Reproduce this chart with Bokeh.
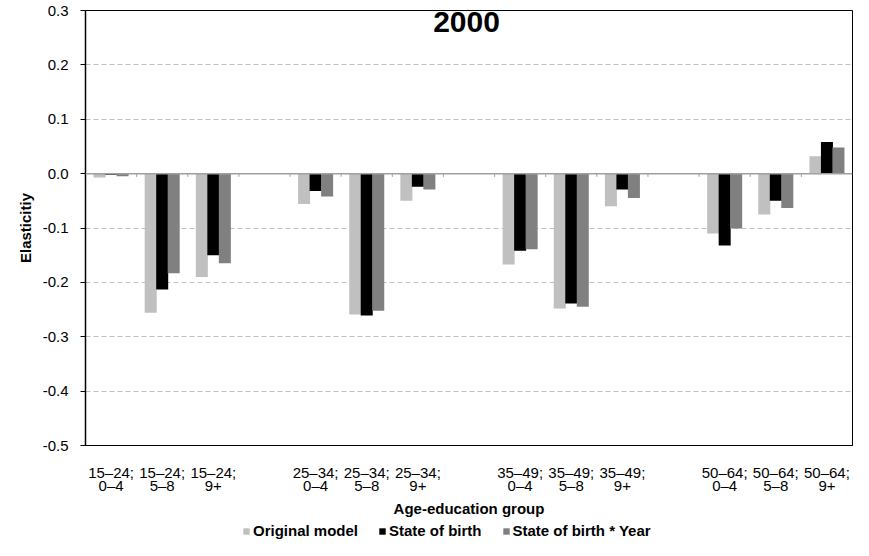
from bokeh.plotting import figure
from bokeh.layouts import column
from bokeh.models import (Range1d, FixedTicker, Legend, LegendItem, Label,
                          NumeralTickFormatter, Span)
from bokeh.embed import file_html
from bokeh.resources import INLINE

age_groups = ["15–24", "25–34", "35–49", "50–64"]
education = ["0–4", "5–8", "9+"]
series = ["Original model", "State of birth", "State of birth * Year"]

original = [-0.007, -0.256, -0.190, -0.056, -0.259, -0.050,
            -0.167, -0.248, -0.060, -0.110, -0.075, 0.032]
state_birth = [-0.002, -0.213, -0.150, -0.032, -0.261, -0.024,
               -0.142, -0.239, -0.029, -0.132, -0.050, 0.058]
state_year = [-0.005, -0.183, -0.165, -0.042, -0.252, -0.029,
              -0.139, -0.245, -0.045, -0.101, -0.063, 0.048]

y_ticks = [-0.5, -0.4, -0.3, -0.2, -0.1, 0.0, 0.1, 0.2, 0.3]
colors = ["#c0c0c0", "#000000", "#808080"]
FONT = "Liberation Sans"

# one empty slot between age groups, like the excel chart
per_group = len(education) + 1
n_slots = len(age_groups) * per_group - 1
centers = [g * per_group + e + 0.5
           for g in range(len(age_groups)) for e in range(len(education))]
labels = {c: f"{a};\n{e}" for c, (a, e) in
          zip(centers, [(a, e) for a in age_groups for e in education])}
all_series = [original, state_birth, state_year]

p = figure(width=853, height=520, x_range=Range1d(0, n_slots),
           y_range=Range1d(-0.5, 0.3), output_backend="svg",
           toolbar_location=None, min_border_left=85, min_border_right=1,
           min_border_top=10, min_border_bottom=75)
p.background_fill_color = "white"
p.border_fill_color = "white"
p.outline_line_color = "black"
p.outline_line_width = 1

p.ygrid.ticker = FixedTicker(ticks=y_ticks)
p.ygrid.grid_line_color = "#c0c0c0"
p.ygrid.grid_line_dash = "5 3"
p.xgrid.grid_line_color = None

p.add_layout(Span(location=0, dimension="width", line_color="#a0a0a0",
                  line_width=1.5))
bounds = list(range(1, n_slots))
p.segment(x0=bounds, y0=[0] * len(bounds), x1=bounds,
          y1=[-0.006] * len(bounds), line_color="#a0a0a0", line_width=1)

offsets = [-0.225, 0.0, 0.225]
for vals, off, col in zip(all_series, offsets, colors):
    p.vbar(x=[c + off for c in centers], top=vals, bottom=0, width=0.235,
           fill_color=col, line_color=None)

p.yaxis.ticker = FixedTicker(ticks=y_ticks)
p.yaxis.formatter = NumeralTickFormatter(format="0.0")
p.yaxis.minor_tick_line_color = None
p.yaxis.major_tick_in = 0
p.yaxis.major_tick_out = 5
p.yaxis.major_label_standoff = 12
p.yaxis.axis_line_color = "black"
p.yaxis.axis_line_width = 1.5
p.yaxis.major_label_text_font = FONT
p.yaxis.major_label_text_font_size = "15px"
p.yaxis.major_label_text_color = "black"
p.yaxis.axis_label = "Elasticitiy"
p.yaxis.axis_label_standoff = 6
p.yaxis.axis_label_text_font = FONT
p.yaxis.axis_label_text_font_size = "15px"
p.yaxis.axis_label_text_font_style = "bold"
p.yaxis.axis_label_text_color = "black"

p.xaxis.ticker = FixedTicker(ticks=centers)
p.xaxis.major_label_overrides = labels
p.xaxis.minor_tick_line_color = None
p.xaxis.major_tick_line_color = None
p.xaxis.major_tick_in = 0
p.xaxis.major_tick_out = 0
p.xaxis.major_label_standoff = 18
p.xaxis.axis_line_color = "black"
p.xaxis.major_label_text_font = FONT
p.xaxis.major_label_text_font_size = "15px"
p.xaxis.major_label_text_line_height = 0.8
p.xaxis.major_label_text_color = "black"
p.xaxis.axis_label = "Age-education group"
p.xaxis.axis_label_standoff = 3
p.xaxis.axis_label_text_font = FONT
p.xaxis.axis_label_text_font_size = "15px"
p.xaxis.axis_label_text_font_style = "bold"
p.xaxis.axis_label_text_color = "black"

p.add_layout(Label(x=n_slots / 2, y=0.3, text="2000", text_font=FONT,
                   text_font_size="30px", text_font_style="bold",
                   text_color="black", text_align="center",
                   text_baseline="middle", x_offset=-2.5, y_offset=-11.5))

# legend strip under the chart: own small figure, same colours,
# its bars sit outside its y range so only the legend shows
lg = figure(width=853, height=20, x_range=Range1d(0, n_slots),
            y_range=Range1d(1, 2), output_backend="svg",
            toolbar_location=None, min_border=0,
            x_axis_location=None, y_axis_location=None)
lg.outline_line_color = None
lg.grid.visible = False
items = []
for s, vals, off, col in zip(series, all_series, offsets, colors):
    r = lg.vbar(x=[c + off for c in centers], top=vals, bottom=0,
                width=0.235, fill_color=col, line_color=None)
    items.append(LegendItem(label=s, renderers=[r]))
legend = Legend(items=items, orientation="horizontal", location=(157, 1),
                glyph_width=8, glyph_height=8, label_standoff=3, spacing=20,
                padding=0, margin=0, label_height=15,
                border_line_alpha=0, background_fill_alpha=0,
                label_text_font=FONT, label_text_font_size="15px",
                label_text_font_style="bold", label_text_color="black")
lg.add_layout(legend)

open("out.html", "w").write(file_html(column(p, lg), INLINE))
